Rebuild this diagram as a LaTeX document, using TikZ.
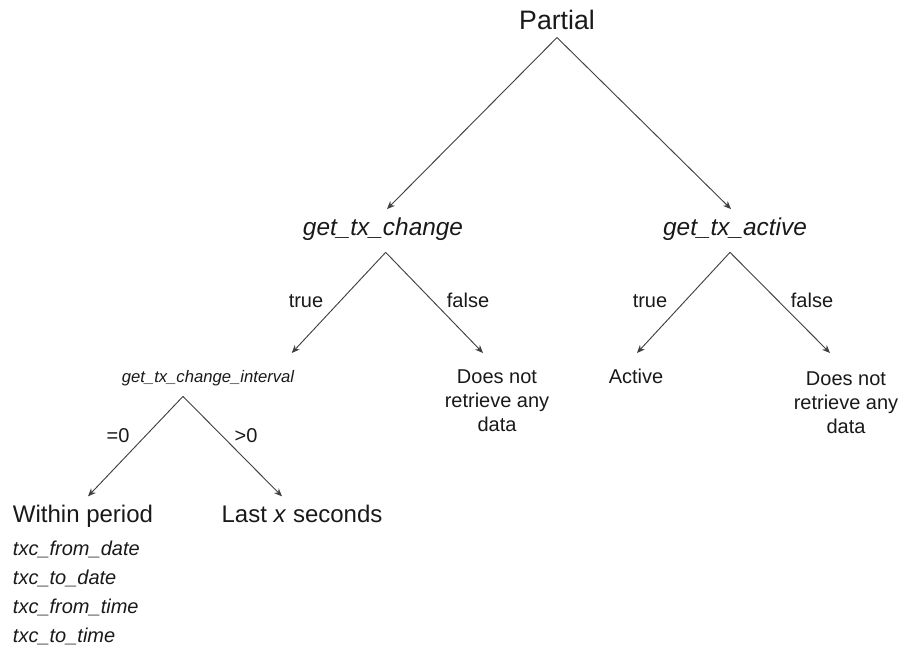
\documentclass[tikz,border=0pt]{standalone}
\usepackage{fontspec}
\setmainfont{Liberation Sans}
\usetikzlibrary{arrows.meta, positioning}
\tikzset{
  root/.style    = {font=\fontsize{20}{24}\selectfont, anchor=base,
                    inner xsep=0pt, inner ysep=6pt},
  call/.style    = {font=\fontsize{18.3}{22}\selectfont\itshape, anchor=base,
                    inner xsep=0pt, inner ysep=6pt},
  subcall/.style = {font=\fontsize{12.5}{15}\selectfont\itshape, anchor=base,
                    inner xsep=0pt, inner ysep=6pt},
  leaf/.style    = {font=\fontsize{15}{18}\selectfont, align=center, anchor=north,
                    inner xsep=0pt, inner ysep=12pt},
  mode/.style    = {font=\fontsize{18}{22}\selectfont, anchor=base,
                    inner xsep=0pt, inner ysep=6pt},
  field/.style   = {font=\fontsize{15}{21.75}\selectfont\itshape, align=left,
                    inner sep=0pt},
  cond/.style    = {font=\fontsize{15}{18}\selectfont, anchor=base, inner sep=0pt},
  branch/.style  = {-{Stealth[length=6pt, width=5pt]}, line width=0.7pt, draw=black!75}
}

\begin{document}
\begin{tikzpicture}[x=0.75pt, y=-0.75pt, every node/.style={text=black!90}]
  \useasboundingbox (0,0) rectangle (906,647);

  \node (partial)  [root]    at (557,29)  {Partial};
  \node (txchange) [call]    at (383,235) {get\_tx\_change};
  \node (txactive) [call]    at (735,235) {get\_tx\_active};
  \node (interval) [subcall] at (208,382) {get\_tx\_change\_interval};
  \node (noneL)    [leaf]    at (497,353) {Does not\\retrieve any\\data};
  \node (active)   [leaf]    at (636,353) {Active};
  \node (noneR)    [leaf]    at (846,355) {Does not\\retrieve any\\data};
  \node (within)   [mode]    at (83,522)  {Within period};
  \node (lastx)    [mode]    at (302,522) {Last \textit{x} seconds};
  \node (fields)   [field, below=4pt of within.south west, anchor=north west]
        {txc\_from\_date\\txc\_to\_date\\txc\_from\_time\\txc\_to\_time};

  % branch conditions
  \node (trueL)  [cond] at (306,307) {true};
  \node (falseL) [cond] at (468,307) {false};
  \node (trueR)  [cond] at (650,307) {true};
  \node (falseR) [cond] at (812,307) {false};
  \node (zero)   [cond] at (118,442) {=0};
  \node (above)  [cond] at (246,442) {>0};

  % tree branches
  \draw[branch] (partial.south) -- ([xshift=3pt]txchange.north);
  \draw[branch] (partial.south) -- ([xshift=-3pt]txactive.north);
  \draw[branch] ([xshift=2pt,yshift=-3pt]txchange.south) -- ([xshift=-2pt,yshift=6.5pt]interval.north east);
  \draw[branch] ([xshift=2pt,yshift=-3pt]txchange.south) -- ([xshift=-10.5pt]noneL.north);
  \draw[branch] ([xshift=-3.75pt,yshift=-3pt]txactive.south) -- ([xshift=0.75pt]active.north);
  \draw[branch] ([xshift=-3.75pt,yshift=-3pt]txactive.south) -- ([xshift=-12pt,yshift=1.5pt]noneR.north);
  \draw[branch] ([xshift=-18.75pt,yshift=-2pt]interval.south) -- ([xshift=3.75pt]within.north);
  \draw[branch] ([xshift=-18.75pt,yshift=-2pt]interval.south) -- ([xshift=-15pt]lastx.north);
\end{tikzpicture}
\end{document}
